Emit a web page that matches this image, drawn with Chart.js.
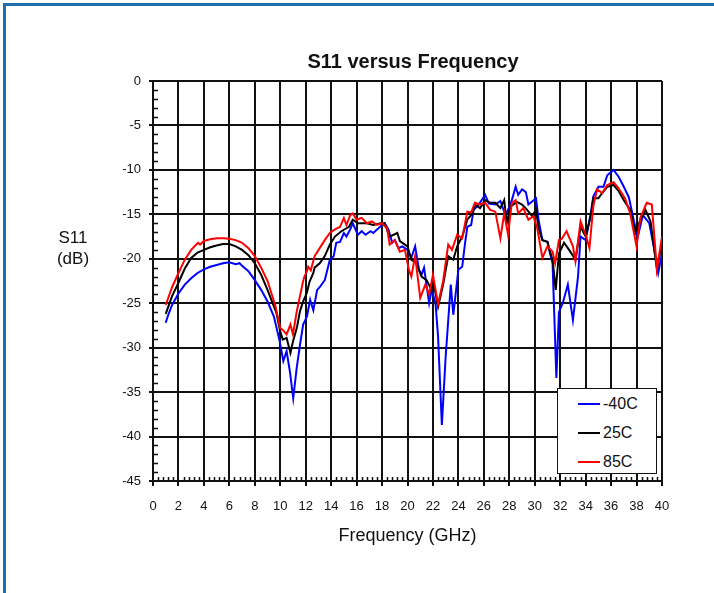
<!DOCTYPE html>
<html>
<head>
<meta charset="utf-8">
<script src="https://cdn.jsdelivr.net/npm/chart.js@4.4.1/dist/chart.umd.min.js"></script>
<style>
  html, body { margin: 0; padding: 0; background: #fff; }
  #wrap { position: relative; width: 714px; height: 593px; overflow: hidden; background: #fff; }
  #frame { position: absolute; left: 3px; top: 3px; width: 730px; height: 620px;
           border-top: 3px solid #1f6fae; border-left: 3px solid #1f6fae; pointer-events: none; }
  #c { position: absolute; left: 0; top: 0; }
  #ylab { position: absolute; left: 48px; top: 227px; width: 50px; text-align: center;
          font: 17px 'Liberation Sans', Arial, sans-serif; line-height: 21px; color: #111; }
  #legend { position: absolute; left: 557px; top: 388px; width: 100px; height: 86px;
            border: 1.5px solid #111; background: #fff; box-sizing: border-box;
            font: 16px 'Liberation Sans', Arial, sans-serif; color: #111; }
  .li { position: absolute; left: 0; width: 100px; height: 20px; }
  .li .sw { position: absolute; left: 20px; top: 9px; width: 22px; height: 2px; }
  .li .tx { position: absolute; left: 45px; top: 0; line-height: 20px; }
</style>
</head>
<body>
<div id="wrap">
  <canvas id="c" width="714" height="593"></canvas>
  <div id="ylab"></div>
  <div id="legend"></div>
  <div id="frame"></div>
</div>
<script>
// ---------- data ----------
const chartTitle = 'S11 versus Frequency';
const xAxisTitle = 'Frequency (GHz)';
const yAxisTitle = ['S11', '(dB)'];
const seriesNames = ['-40C', '25C', '85C'];
const seriesColors = ['#0000ff', '#000000', '#ff0000'];

const xTickMin = 0, xTickMax = 40, xTickStep = 2, xMinorStep = 0.4;
const yTickMin = -45, yTickMax = 0, yTickStep = 5, yMinorStep = 1;

const freqM40 = [1.0,1.2,1.5,2.0,2.5,3.0,3.5,4.0,4.5,5.0,5.5,6.0,6.5,6.8,7.0,7.5,8.0,8.5,9.0,9.5,9.93,10.24,10.5,10.76,11.02,11.29,11.55,11.8,12.1,12.35,12.6,12.9,13.1,13.5,13.9,14.2,14.4,14.7,15.0,15.2,15.5,15.7,16.1,16.4,16.7,17.1,17.3,17.7,18.0,18.2,18.5,18.8,19.0,19.3,19.6,20.0,20.3,20.6,20.9,21.1,21.3,21.7,21.9,22.2,22.4,22.7,23.0,23.4,23.6,24.0,24.3,24.5,24.7,25.0,25.2,25.6,26.1,26.4,26.9,27.3,27.7,28.0,28.2,28.5,28.7,29.0,29.3,29.5,30.1,30.3,30.6,31.0,31.2,31.4,31.7,31.9,32.2,32.6,33.0,33.4,33.6,34.0,34.4,34.6,35.0,35.4,35.7,36.2,36.6,37.0,37.4,37.8,38.1,38.5,39.0,39.4,39.7,40.0];
const s11M40 = [-27.2,-26.3,-25.2,-23.9,-22.9,-22.2,-21.6,-21.2,-20.9,-20.7,-20.5,-20.4,-20.6,-20.5,-20.8,-21.4,-22.4,-23.5,-24.8,-26.5,-29.1,-31.5,-30.4,-32.7,-35.7,-32.3,-29.7,-27.4,-26.5,-24.6,-25.8,-23.5,-23.2,-22.4,-20.1,-19.7,-18.2,-18.1,-17.1,-17.5,-16.7,-16.0,-17.3,-16.9,-17.3,-16.9,-17.1,-16.6,-16.2,-16.0,-16.7,-18.2,-17.9,-18.8,-18.6,-19.0,-19.9,-18.6,-21.2,-21.8,-21.0,-25.0,-23.5,-25.0,-28.7,-38.7,-31.0,-22.9,-26.3,-21.2,-20.9,-18.5,-16.4,-16.2,-14.5,-13.9,-12.8,-13.8,-13.9,-13.5,-15.1,-14.2,-13.4,-11.9,-12.8,-12.2,-12.5,-13.9,-13.2,-15.6,-17.9,-18.1,-19.4,-20.5,-33.4,-26.0,-25.0,-22.9,-26.9,-22.0,-17.5,-17.9,-14.9,-13.0,-11.9,-11.9,-10.6,-10.0,-10.8,-11.9,-13.1,-15.8,-17.5,-15.1,-16.0,-19.0,-21.6,-19.4];

const freq25 = [1.0,1.5,2.0,2.5,3.0,3.5,4.0,4.5,5.0,5.5,6.0,6.5,7.0,7.5,8.0,8.5,9.0,9.7,10.0,10.2,10.5,10.8,11.0,11.3,11.55,11.8,12.1,12.3,12.6,12.7,13.1,13.5,13.9,14.3,14.8,15.4,15.7,16.1,16.8,17.3,17.9,18.2,18.6,19.2,19.4,20.0,20.3,20.7,21.1,21.5,21.9,22.0,22.4,22.8,23.2,23.6,23.9,24.3,24.7,25.1,25.3,25.7,26.1,26.5,26.9,27.3,27.6,27.8,28.1,28.3,28.6,29.0,29.4,29.8,30.1,30.3,30.6,31.0,31.2,31.4,31.65,31.9,32.3,32.7,33.2,33.6,34.0,34.4,34.6,35.0,35.3,35.7,36.2,36.6,37.0,37.5,37.9,38.3,38.7,39.1,39.6,40.0];
const s1125 = [-26.2,-24.2,-22.7,-21.1,-19.9,-19.3,-19.0,-18.7,-18.5,-18.35,-18.35,-18.6,-19.0,-19.6,-20.5,-21.8,-23.5,-26.1,-28.2,-29.1,-28.9,-30.6,-29.3,-27.8,-25.9,-24.8,-23.8,-22.6,-21.6,-21.0,-20.5,-19.7,-18.4,-17.5,-16.9,-16.4,-15.6,-16.0,-16.0,-16.2,-16.0,-16.0,-17.5,-17.1,-18.0,-18.6,-20.1,-20.5,-22.0,-22.4,-23.5,-22.4,-25.4,-22.9,-19.7,-20.1,-18.6,-17.5,-15.6,-14.9,-13.9,-14.3,-13.4,-13.7,-13.7,-14.3,-13.4,-16.0,-14.1,-13.9,-13.6,-13.9,-14.5,-15.2,-14.5,-16.6,-17.9,-18.1,-19.2,-20.1,-23.5,-19.4,-18.2,-19.0,-20.1,-16.4,-17.5,-15.2,-13.2,-13.2,-12.6,-11.9,-11.7,-12.4,-13.4,-14.5,-17.1,-15.6,-14.5,-15.8,-21.2,-18.2];

const freq85 = [1.0,1.5,2.0,2.5,3.0,3.4,3.55,3.7,4.0,4.5,5.0,5.5,6.0,6.5,7.0,7.5,8.0,8.5,9.0,9.6,10.0,10.2,10.5,10.8,11.0,11.3,11.55,11.8,11.9,12.1,12.2,12.4,12.7,13.1,13.5,13.9,14.3,14.7,15.0,15.2,15.5,15.7,16.0,16.4,16.8,17.2,17.6,18.0,18.4,18.6,19.0,19.4,19.8,20.1,20.3,20.6,21.0,21.4,21.7,22.0,22.4,22.8,23.2,23.5,23.9,24.3,24.7,25.0,25.3,25.7,26.1,26.5,26.9,27.3,27.6,27.9,28.2,28.5,28.7,29.1,29.5,29.9,30.2,30.6,31.0,31.4,31.6,31.9,32.1,32.5,33.0,33.2,33.6,34.0,34.3,34.6,34.9,35.3,35.7,36.2,36.6,37.1,37.5,38.0,38.3,38.8,39.2,39.6,40.0];
const s1185 = [-25.2,-23.2,-21.6,-20.1,-19.0,-18.4,-18.2,-18.4,-18.0,-17.8,-17.7,-17.7,-17.75,-17.9,-18.2,-18.8,-19.7,-21.0,-22.5,-25.2,-27.8,-28.0,-28.5,-27.4,-28.5,-25.9,-24.2,-22.5,-22.0,-21.4,-20.9,-21.3,-19.7,-18.8,-17.9,-17.1,-16.7,-16.4,-15.4,-16.2,-15.1,-14.9,-15.6,-15.4,-16.0,-15.8,-16.2,-16.0,-16.6,-18.4,-17.9,-19.2,-19.0,-21.2,-22.0,-19.7,-24.4,-22.9,-24.0,-21.8,-25.1,-22.5,-18.4,-19.0,-17.3,-17.7,-14.7,-14.8,-13.7,-13.9,-13.7,-14.5,-14.7,-17.7,-14.9,-17.3,-13.7,-13.4,-14.9,-14.3,-15.6,-15.2,-16.6,-19.9,-18.6,-19.2,-20.5,-17.9,-17.8,-16.9,-18.6,-20.3,-15.8,-17.3,-18.8,-14.1,-12.2,-12.6,-11.7,-11.4,-12.1,-13.2,-14.9,-18.6,-15.4,-13.7,-13.9,-21.2,-17.5];

const seriesFreqs = [freqM40, freq25, freq85];
const seriesValues = [s11M40, s1125, s1185];

// ---------- build ----------
const FONT = "'Liberation Sans', Arial, sans-serif";
const datasets = seriesNames.map((name, i) => ({
  label: name,
  data: seriesFreqs[i].map((f, k) => ({ x: f, y: seriesValues[i][k] })),
  borderColor: seriesColors[i],
  backgroundColor: seriesColors[i],
  borderWidth: 2,
  pointRadius: 0,
  tension: 0,
  fill: false,
  order: seriesNames.length - i
}));

const minorTicks = {
  id: 'minorTicks',
  afterDraw(chart) {
    const { ctx, chartArea: a, scales: { x, y } } = chart;
    ctx.save();
    ctx.strokeStyle = '#111';
    ctx.lineWidth = 1.5;
    ctx.beginPath();
    const nx = Math.round((xTickMax - xTickMin) / xMinorStep);
    const perMajX = Math.round(xTickStep / xMinorStep);
    for (let i = 0; i <= nx; i++) {
      if (i % perMajX === 0) continue;
      const px = Math.round(x.getPixelForValue(xTickMin + i * xMinorStep)) + 0.5;
      ctx.moveTo(px, a.bottom);
      ctx.lineTo(px, a.bottom - 4);
    }
    const ny = Math.round((yTickMax - yTickMin) / yMinorStep);
    const perMajY = Math.round(yTickStep / yMinorStep);
    for (let i = 0; i <= ny; i++) {
      if (i % perMajY === 0) continue;
      const py = Math.round(y.getPixelForValue(yTickMin + i * yMinorStep)) + 0.5;
      ctx.moveTo(a.left, py);
      ctx.lineTo(a.left + 5, py);
    }
    ctx.stroke();
    ctx.restore();
  }
};

const titleShift = {
  id: 'titleShift',
  afterLayout(chart) {
    if (chart.titleBlock) { chart.titleBlock.left += 11; }
  }
};

const chart = new Chart(document.getElementById('c'), {
  type: 'line',
  data: { datasets },
  plugins: [minorTicks, titleShift],
  options: {
    responsive: false,
    animation: false,
    events: [],
    layout: { padding: { left: 100, right: 52, top: 0, bottom: 40 } },
    plugins: {
      legend: { display: false },
      tooltip: { enabled: false },
      title: {
        display: true, text: chartTitle, fullSize: false, color: '#111',
        font: { family: FONT, size: 20, weight: 'bold' },
        padding: { top: 50, bottom: 7 }
      }
    },
    scales: {
      x: {
        type: 'linear', min: xTickMin, max: xTickMax,
        afterFit(s) { s.height = 72; },
        ticks: { stepSize: xTickStep, color: '#111', padding: 13, maxRotation: 0, autoSkip: false,
                 font: { family: FONT, size: 13 } },
        grid: { color: '#111', lineWidth: 2, tickLength: 5, tickColor: '#111' },
        border: { color: '#111', width: 2 },
        title: { display: true, text: xAxisTitle, color: '#111',
                 font: { family: FONT, size: 18 }, padding: { top: 0, bottom: 6 } }
      },
      y: {
        type: 'linear', min: yTickMin, max: yTickMax,
        afterFit(s) { s.width = 53; },
        ticks: { stepSize: yTickStep, color: '#111', padding: 8,
                 font: { family: FONT, size: 13 } },
        grid: { color: '#111', lineWidth: 2, tickLength: 4, tickColor: '#111' },
        border: { color: '#111', width: 2 }
      }
    }
  }
});

// y axis title (horizontal) and legend as real HTML text
document.getElementById('ylab').innerHTML = yAxisTitle.map(t => '<div>' + t + '</div>').join('');
const lg = document.getElementById('legend');
const rowTops = [5, 34, 63];
chart.data.datasets.forEach((d, i) => {
  const row = document.createElement('div');
  row.className = 'li';
  row.style.top = rowTops[i] + 'px';
  row.innerHTML = '<span class="sw" style="background:' + d.borderColor + '"></span><span class="tx">' + d.label + '</span>';
  lg.appendChild(row);
});
</script>
</body>
</html>
